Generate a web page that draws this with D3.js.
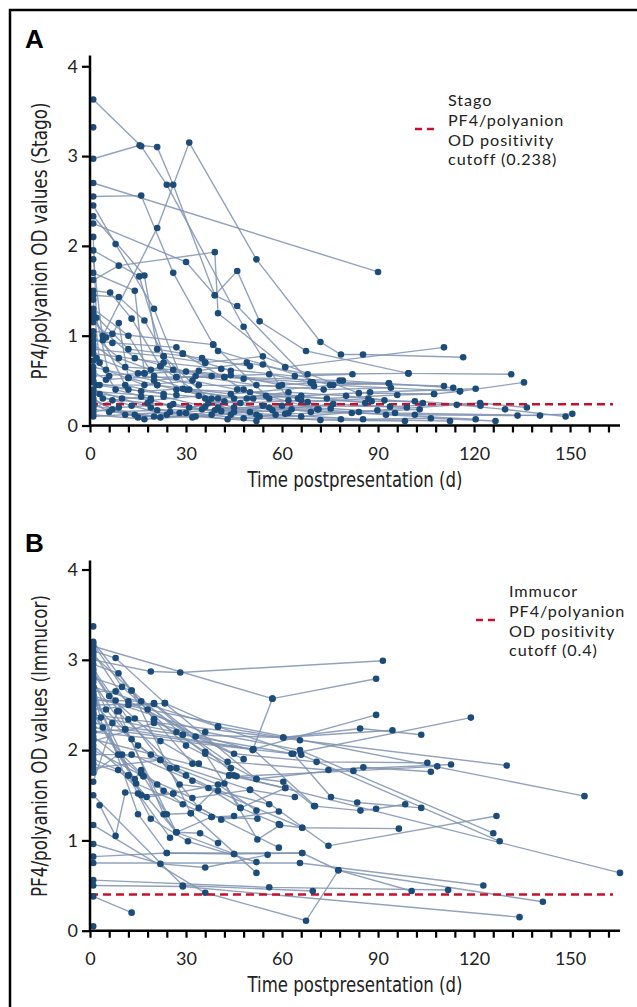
<!DOCTYPE html>
<html>
<head>
<meta charset="utf-8">
<script src="https://cdn.jsdelivr.net/npm/d3@7"></script>
<style>
  body { margin: 0; background: #fff; }
  svg { display: block; }
</style>
</head>
<body>
<svg id="chart" width="637" height="1007"></svg>
<script>
// x ticks (days) and y ticks (OD)
const xTickLabels = [0, 30, 60, 90, 120, 150];
const yTickLabels = [0, 1, 2, 3, 4];

// positivity cutoffs
const stagoCutoff = 0.238;
const immucorCutoff = 0.4;

// Panel A - Stago, one array of [day, OD] per patient
const stagoSeries = [
  [[1,3.63],[16,3.11],[24,2.68],[48,1.10],[62,0.28]],
  [[1,2.97],[15.5,3.12],[21,3.10],[26,2.68],[39,1.45],[46,1.33],[69,0.48]],
  [[1,2.70],[90,1.71]],
  [[1,2.55],[16,2.56],[26,1.70],[38.5,0.90],[56,0.30]],
  [[4,1.00],[21,2.20],[31,3.15],[52,1.85],[72,0.93],[78.4,0.79],[85.3,0.79],[116.6,0.76]],
  [[1,2.45],[8,2.02],[20,1.30],[30,0.40],[45,0.15]],
  [[1,1.62],[9,1.78],[39,1.93],[40,1.25],[61,0.65],[110.6,0.87]],
  [[1,2.25],[30,1.82],[39,1.45],[46,1.72],[53,1.16],[67.5,0.83],[99.5,0.58],[131.6,0.57]],
  [[1,3.32]],
  [[1,2.33],[17,1.67],[21,0.85],[29,0.80],[36,0.70],[44,0.61]],
  [[1,1.50],[6.3,1.48],[13,1.19],[22,0.66],[36,0.30],[52,0.12]],
  [[1,1.45],[9,1.43],[17,1.17],[27,0.54],[42,0.54],[69,0.48],[110.6,0.44]],
  [[1,1.70],[14,1.50],[17,0.58],[34,0.61],[49,0.70],[68,0.57],[99.5,0.58]],
  [[1,1.95],[15.4,1.66],[23,0.77],[40,0.20],[62,0.14]],
  [[1,1.20],[5,0.98],[7,1.02],[9,1.14],[12,0.53],[21,0.45],[40,0.30]],
  [[1,1.05],[38.5,0.90],[40,0.83],[54,0.68],[75,0.45],[93.4,0.47]],
  [[1,0.95],[7,0.92],[27,0.87],[29,0.80],[48,0.40],[71,0.18]],
  [[1,0.85],[23,0.77],[36,0.70],[54,0.77],[84,0.36],[107.5,0.35]],
  [[1,0.60],[5,0.51],[12,0.53],[27,0.54],[42,0.54],[79,0.50],[113.5,0.42]],
  [[1,0.55],[17,0.58],[22,0.66],[27,0.40],[49,0.30],[87.5,0.37],[120.5,0.41]],
  [[1,0.50],[3,0.45],[21,0.45],[44,0.35],[76,0.45],[115.6,0.38],[135.6,0.48]],
  [[1,1.30],[12,1.00],[20,0.55],[34,0.45],[59,0.44]],
  [[1,1.15],[14,0.75],[30,0.60],[48,0.52],[70,0.44]],
  [[1,0.80],[23,0.70],[41,0.63],[64,0.55],[82,0.57]],
  [[1,0.72],[5,0.62],[17,0.45],[32,0.50],[46,0.40],[65,0.30]],
  [[1,1.85],[4,0.95],[11,0.45],[23,0.35]],
  [[1,2.10],[2,1.20],[6,0.55]],
  [[1,1.40],[3,0.70],[8,0.40],[19,0.30]],
  [[1,1.25],[12,0.85],[35,0.75],[50,0.66]],
  [[1,0.65],[20,0.50],[33,0.55],[52,0.45],[73,0.40],[94,0.42]],
  [[1,0.90],[11,0.65],[26,0.62],[44,0.56],[60,0.45],[78,0.50]],
  [[2,0.75],[15,0.58],[31,0.40],[50,0.37],[66,0.33],[86,0.25]],
  [[1,1.00],[9,0.75],[19,0.62],[38,0.55],[56,0.57],[69.6,0.48],[93.4,0.47]],
  [[1,0.40],[10,0.30],[19,0.20],[33,0.10],[52,0.05]],
  [[1,0.35],[13,0.22],[24,0.12],[37,0.25],[53,0.10],[72,0.06],[98.4,0.05]],
  [[1,0.30],[7,0.18],[15,0.09],[30,0.14],[48,0.08],[78.4,0.07],[112.5,0.05]],
  [[1,0.28],[11,0.12],[22,0.09],[41,0.16],[60,0.22],[93.75,0.21],[121.9,0.25],[136.5,0.20]],
  [[1,0.25],[6,0.15],[21,0.17],[35,0.18],[58,0.12],[85.3,0.07],[106.5,0.08],[126.7,0.05]],
  [[1,0.22],[20,0.10],[28,0.14],[45,0.20],[63,0.18],[81.8,0.14],[101.5,0.12],[133.6,0.11],[150.7,0.13]],
  [[1,0.18],[14,0.12],[32,0.09],[50,0.15],[71.4,0.18],[92.5,0.12],[120.5,0.07]],
  [[1,0.15],[9,0.20],[26,0.24],[44,0.12],[66,0.10],[89.8,0.17],[114.6,0.23],[129.7,0.18],[148.6,0.10]],
  [[1,0.12],[17,0.07],[38,0.12],[56,0.20],[75.2,0.19],[95.3,0.14],[140.6,0.11]],
  [[1,0.10],[25,0.15],[43,0.07],[61,0.13],[84,0.15],[103,0.18]],
  [[3,0.35],[19,0.28],[34,0.33],[47,0.25],[66,0.28],[88,0.27],[101.5,0.27],[122,0.22]],
  [[2,0.45],[12,0.40],[27,0.34],[38,0.30],[55,0.33],[74,0.30],[96,0.34],[107.5,0.35],[115.6,0.38]],
  [[1,0.48],[16,0.38],[29,0.41],[45,0.30],[62,0.37],[80,0.33],[92,0.28]],
  [[4,0.30],[18,0.25],[31,0.20],[42,0.27],[57,0.17],[76,0.24],[99,0.20]],
  [[1,0.38],[23,0.32],[36,0.21],[51,0.30],[68,0.26],[87,0.30],[104,0.25]],
  [[1,0.20],[7,0.28],[16,0.32],[25,0.22],[39,0.17],[54,0.22],[69,0.15]]
];

// Panel B - Immucor
const immucorSeries = [
  [[1,3.00],[19,2.87],[28.2,2.86],[91.5,2.99]],
  [[1,3.15],[57,2.57],[89.4,2.79]],
  [[1,3.10],[8,3.02],[23.4,2.52],[40,2.26],[60.4,2.14],[84.4,2.24],[103.5,2.17]],
  [[1,2.95],[8.9,2.85],[20,2.34],[36,1.98],[52,1.68]],
  [[1,2.57],[154.5,1.49]],
  [[1,2.12],[45,1.72],[165.6,0.64]],
  [[1,2.39],[65.6,2.11],[130.2,1.83]],
  [[1,2.20],[63,1.96],[119,2.36]],
  [[1,2.25],[51,2.01],[89.4,2.39]],
  [[1,2.80],[13,2.66],[29,2.17],[60.4,2.14],[94.5,2.22]],
  [[1,2.65],[8,2.65],[12,2.54],[45,1.96],[70.8,1.87],[105.4,1.86]],
  [[1,2.55],[8,2.55],[16,2.54],[43,1.87],[74.5,1.78],[112.8,1.84]],
  [[1,2.50],[20,2.51],[45.8,1.71],[82.3,1.77],[108.5,1.82]],
  [[1,2.45],[23.4,2.52],[52,1.68],[85.4,1.81],[106.5,1.76]],
  [[1,2.60],[36,2.20],[65.6,2.00],[126,1.08]],
  [[1,2.70],[40,2.26],[66,1.95],[128,0.99]],
  [[1,2.30],[29,2.17],[63.5,1.96],[75.3,1.48],[83.5,1.42],[103.5,1.36]],
  [[1,2.20],[11,2.23],[51,2.01],[70.3,1.38],[84.5,1.33],[89.4,1.35],[98.5,1.40]],
  [[1,1.95],[13,1.95],[32,1.66],[66.3,1.14],[96.5,1.13]],
  [[1,1.80],[22,1.89],[50,1.56],[74.5,0.94],[127,1.27]],
  [[3,1.39],[8,1.05],[11,1.53],[15,1.52],[25,1.03]],
  [[1,0.56],[56,0.48],[111.9,0.45]],
  [[1,0.50],[29,0.49],[134.2,0.15]],
  [[1,0.38],[13,0.20]],
  [[1,0.05]],
  [[1,3.37]],
  [[1,0.96],[22,0.74],[36,0.70],[55.5,0.84]],
  [[1,0.82],[24,0.86],[45,0.85],[66.3,0.86],[77.6,0.67],[141.5,0.32]],
  [[1,1.17],[36,0.42],[67.5,0.11],[77.6,0.67],[100.5,0.44]],
  [[1,1.50],[29,0.50],[69.6,0.44]],
  [[1,0.75],[65.6,0.75],[122.9,0.50]],
  [[1,3.05],[13,2.66],[31.5,1.30],[52,0.64]],
  [[1,2.90],[12,2.34],[34,1.36],[59,0.92]],
  [[1,2.75],[11,2.23],[27,1.09],[45,0.85]],
  [[1,2.70],[15,1.29],[24,0.86],[66.3,0.86]],
  [[1,2.40],[14.4,1.63],[38,1.26],[52.3,1.24]],
  [[1,2.15],[16.7,1.71],[32,1.47],[50,1.56],[64,1.48]],
  [[1,2.05],[12,1.72],[19,1.24],[30.6,0.99],[52,0.76]],
  [[1,1.90],[8.8,1.78],[17.7,1.48],[26,1.52],[41,1.23],[59,1.32]],
  [[1,1.75],[8.8,1.95],[22,1.89],[28,1.62],[37,1.58],[47,1.36],[61,1.58]],
  [[1,2.85],[9,2.43],[23,1.29],[27,1.09],[34.4,1.08],[40,0.97]],
  [[1,2.62],[16,1.50],[26,1.52],[42,1.63],[52.3,1.01],[59.4,1.17],[66.3,1.14]],
  [[1,3.20],[20,2.34],[32,1.85],[43.5,1.72],[60.4,1.65],[70,1.38]],
  [[1,2.10],[20,2.30],[50.8,2.00],[57,2.57]],
  [[1,2.35],[3.4,2.36],[27,2.20],[36,1.96],[47,1.36],[59,1.18]],
  [[1,1.65],[8.5,2.43],[27,1.80],[40,1.62],[52,1.33]],
  [[1,1.85],[12,1.72],[27,1.09],[38,1.26],[45,1.27]],
  [[1,2.00],[16.7,1.71],[24,1.29],[31.5,1.30],[43.5,1.72],[61,1.58]],
  [[1,3.18],[10,2.70],[18,2.45],[30,2.05],[44,1.80]],
  [[1,2.88],[6,2.60],[14,2.35],[22,2.10],[34,1.85]],
  [[1,2.78],[5,2.45],[15,2.05],[25,1.80],[40,1.55],[56,1.40]],
  [[1,3.08],[12,2.50],[20,2.52],[33,2.15],[48,1.90]],
  [[1,2.52],[7,2.30],[13,2.12],[19,1.95],[30,1.72]],
  [[1,2.68],[4,2.25],[10,1.95],[16,1.74],[23,1.55]],
  [[1,2.42],[14,1.68],[16,1.78],[21,1.62],[29,1.40]]
];

const svg = d3.select("#chart");

const lineColor = "#7f92b0";
const dotColor = "#1b4c7a";
const cutoffColor = "#c8102e";

// outer frame (only top and left edges show)
svg.append("path")
  .attr("d", "M10,1007 V10 H637")
  .attr("fill", "none")
  .attr("stroke", "#000")
  .attr("stroke-width", 2.5);

function drawPanel(opts) {
  const x = d3.scaleLinear().domain([0, 165.6]).range([90, 620]);
  const y = d3.scaleLinear().domain([0, opts.yMax]).range([opts.y0, opts.yTop]);
  const g = svg.append("g");

  // panel letter
  svg.append("text")
    .attr("x", 25)
    .attr("y", opts.letterY)
    .style("font", "bold 26px 'Liberation Sans', Arial, sans-serif")
    .text(opts.letter);

  const line = d3.line().x(d => x(d[0])).y(d => y(d[1]));

  // patient lines
  g.selectAll(".pline")
    .data(opts.series)
    .enter().append("path")
    .attr("class", "pline")
    .attr("d", line)
    .attr("fill", "none")
    .attr("stroke", lineColor)
    .attr("stroke-width", 1.4)
    .attr("stroke-opacity", 0.85);

  // cutoff line
  g.append("line")
    .attr("x1", x(0)).attr("x2", 613)
    .attr("y1", y(opts.cutoff)).attr("y2", y(opts.cutoff))
    .attr("stroke", cutoffColor)
    .attr("stroke-width", 2.5)
    .attr("stroke-dasharray", "8,5");

  // points
  g.selectAll(".pt")
    .data(opts.series.flat())
    .enter().append("circle")
    .attr("class", "pt")
    .attr("cx", d => x(d[0]))
    .attr("cy", d => y(d[1]))
    .attr("r", 3.3)
    .attr("fill", dotColor);

  // x axis
  const xAxis = d3.axisBottom(x)
    .tickValues(d3.range(0, 163, 6))
    .tickSize(7)
    .tickFormat(d => xTickLabels.includes(d) ? d : "");
  const gx = g.append("g")
    .attr("transform", `translate(0,${opts.y0})`)
    .call(xAxis);
  gx.select(".domain").attr("stroke-width", 2.5).attr("d", `M${x(0)},0H${x(165.6)}`);
  gx.selectAll(".tick line").attr("stroke-width", 2.2);
  gx.selectAll(".tick text")
    .attr("dy", "1.35em")
    .style("font", "18px 'Lato', 'Open Sans', sans-serif")
    .attr("fill", "#222");

  // y axis
  const yAxis = d3.axisLeft(y).tickValues(yTickLabels).tickSize(8).tickFormat(d3.format("d"));
  const gy = g.append("g")
    .attr("transform", `translate(${x(0)},0)`)
    .call(yAxis);
  gy.select(".domain").attr("stroke-width", 2.5).attr("d", `M0,${opts.y0}V${opts.yTop}`);
  gy.selectAll(".tick line").attr("stroke-width", 2.2);
  gy.selectAll(".tick text")
    .attr("x", -12)
    .style("font", "18px 'Lato', 'Open Sans', sans-serif")
    .attr("fill", "#222");

  // axis titles (condensed)
  svg.append("text")
    .attr("x", 355)
    .attr("y", opts.y0 + 61)
    .attr("text-anchor", "middle")
    .attr("textLength", 215)
    .attr("lengthAdjust", "spacingAndGlyphs")
    .style("font", "22px 'DejaVu Sans', sans-serif")
    .attr("fill", "#222")
    .text("Time postpresentation (d)");

  svg.append("text")
    .attr("transform", `translate(47,${opts.yLabelC}) rotate(-90)`)
    .attr("text-anchor", "middle")
    .attr("textLength", opts.yLabelLen)
    .attr("lengthAdjust", "spacingAndGlyphs")
    .style("font", "21px 'DejaVu Sans', sans-serif")
    .attr("fill", "#222")
    .text(opts.yTitle);

  // legend: dashed key + four text lines
  const leg = svg.append("g");
  leg.append("line")
    .attr("x1", opts.legX).attr("x2", opts.legX + 19)
    .attr("y1", opts.legLineY).attr("y2", opts.legLineY)
    .attr("stroke", cutoffColor)
    .attr("stroke-width", 2.5)
    .attr("stroke-dasharray", "7,5");
  leg.selectAll(".legtxt")
    .data(opts.legLines)
    .enter().append("text")
    .attr("class", "legtxt")
    .attr("x", opts.legX + 33)
    .attr("y", (d, i) => opts.legTextY + i * 19.8)
    .style("font", "16.2px 'Lato', sans-serif")
    .style("letter-spacing", "0.9px")
    .attr("fill", "#222")
    .text(d => d);
}

drawPanel({
  letter: "A", letterY: 48,
  series: stagoSeries,
  yMax: 4.12, y0: 425.5, yTop: 55.5,
  cutoff: stagoCutoff,
  yTitle: "PF4/polyanion OD values (Stago)", yLabelC: 241, yLabelLen: 277,
  legX: 415, legLineY: 129, legTextY: 106,
  legLines: ["Stago", "PF4/polyanion", "OD positivity", "cutoff (0.238)"]
});

drawPanel({
  letter: "B", letterY: 552,
  series: immucorSeries,
  yMax: 4.1, y0: 930.7, yTop: 560.5,
  cutoff: immucorCutoff,
  yTitle: "PF4/polyanion OD values (Immucor)", yLabelC: 746, yLabelLen: 302,
  legX: 476, legLineY: 620, legTextY: 597,
  legLines: ["Immucor", "PF4/polyanion", "OD positivity", "cutoff (0.4)"]
});
</script>
</body>
</html>
